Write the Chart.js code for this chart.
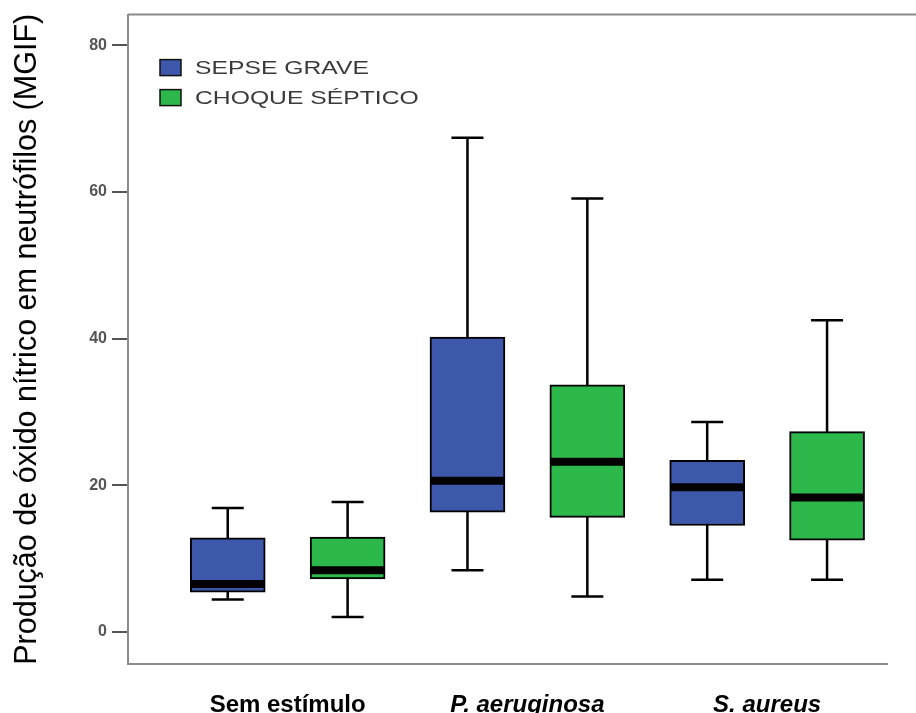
<!DOCTYPE html>
<html>
<head>
<meta charset="utf-8">
<script src="https://cdn.jsdelivr.net/npm/chart.js@4/dist/chart.umd.min.js"></script>
<style>
  html, body { margin: 0; padding: 0; background: #fff; }
  #wrap { width: 916px; height: 713px; }
</style>
</head>
<body>
<div id="wrap"><canvas id="noChart"></canvas></div>
<script>
// Categorias e séries
const categories = ['Sem estímulo', 'P. aeruginosa', 'S. aureus'];
const seriesNames = ['SEPSE GRAVE', 'CHOQUE SÉPTICO'];
const seriesColors = ['#3d58aa', '#2db84b'];

// Sepse grave: mínimo, Q1, mediana, Q3, máximo
const sepseMin = [4.4, 8.4, 7.1];
const sepseQ1 = [5.4, 16.3, 14.5];
const sepseMedian = [6.5, 20.6, 19.7];
const sepseQ3 = [12.8, 40.2, 23.4];
const sepseMax = [16.9, 67.4, 28.6];

// Choque séptico
const choqueMin = [2.0, 4.8, 7.1];
const choqueQ1 = [7.2, 15.6, 12.5];
const choqueMedian = [8.4, 23.2, 18.3];
const choqueQ3 = [12.9, 33.7, 27.3];
const choqueMax = [17.7, 59.1, 42.5];

const yTicks = [0, 20, 40, 60, 80];

const FONT = "'Liberation Sans', Arial, sans-serif";
const GROUP_OFFSET = 0.25; // deslocamento de cada caixa dentro do grupo

function boxData(q1, q3, shift) {
    return categories.map((c, i) => ({ x: i + shift, y: [q1[i], q3[i]] }));
}

const stats = [
    { min: sepseMin, med: sepseMedian, max: sepseMax },
    { min: choqueMin, med: choqueMedian, max: choqueMax }
];

// Bigodes (antes das caixas) e medianas (depois)
const boxPlotPlugin = {
    id: 'boxPlot',
    beforeDatasetsDraw(chart) {
        const ctx = chart.ctx;
        const y = chart.scales.y;
        ctx.save();
        ctx.strokeStyle = '#000';
        ctx.lineWidth = 2.5;
        chart.data.datasets.forEach((ds, d) => {
            chart.getDatasetMeta(d).data.forEach((bar, i) => {
                const s = stats[d];
                const yMax = y.getPixelForValue(s.max[i]);
                const yMin = y.getPixelForValue(s.min[i]);
                const cap = 16;
                ctx.beginPath();
                ctx.moveTo(bar.x, yMax); ctx.lineTo(bar.x, yMin);
                ctx.moveTo(bar.x - cap, yMax); ctx.lineTo(bar.x + cap, yMax);
                ctx.moveTo(bar.x - cap, yMin); ctx.lineTo(bar.x + cap, yMin);
                ctx.stroke();
            });
        });
        ctx.restore();
    },
    afterDatasetsDraw(chart) {
        const ctx = chart.ctx;
        const y = chart.scales.y;
        ctx.save();
        ctx.strokeStyle = '#000';
        ctx.lineWidth = 8;
        chart.data.datasets.forEach((ds, d) => {
            chart.getDatasetMeta(d).data.forEach((bar, i) => {
                const ym = y.getPixelForValue(stats[d].med[i]);
                ctx.beginPath();
                ctx.moveTo(bar.x - bar.width / 2 + 1, ym);
                ctx.lineTo(bar.x + bar.width / 2 - 1, ym);
                ctx.stroke();
            });
        });
        ctx.restore();
    }
};

// Linha superior da moldura e legenda dentro da área do gráfico
const framePlugin = {
    id: 'frame',
    afterDraw(chart) {
        const ctx = chart.ctx;
        const a = chart.chartArea;
        ctx.save();
        ctx.strokeStyle = '#8a8a8a';
        ctx.lineWidth = 2;
        ctx.beginPath();
        ctx.moveTo(a.left, a.top);
        ctx.lineTo(chart.width, a.top);
        ctx.stroke();

        seriesNames.forEach((name, k) => {
            const bx = a.left + 32;
            const by = a.top + 45 + k * 30;
            ctx.fillStyle = seriesColors[k];
            ctx.fillRect(bx, by, 21, 16);
            ctx.strokeStyle = '#111';
            ctx.lineWidth = 1.5;
            ctx.strokeRect(bx, by, 21, 16);

            ctx.save();
            ctx.translate(bx + 35, by + 8);
            ctx.scale(1.3, 1);
            ctx.fillStyle = '#3a3a3a';
            ctx.font = '19px ' + FONT;
            ctx.textBaseline = 'middle';
            ctx.fillText(name, 0, 1);
            ctx.restore();
        });
        ctx.restore();
    }
};

const chartEl = document.getElementById('noChart');
if (chartEl) {
    new Chart(chartEl, {
        type: 'bar',
        data: {
            datasets: [
                {
                    label: seriesNames[0],
                    data: boxData(sepseQ1, sepseQ3, -GROUP_OFFSET),
                    backgroundColor: seriesColors[0],
                    borderColor: '#000',
                    borderWidth: 2,
                    borderSkipped: false,
                    barThickness: 75,
                    grouped: false
                },
                {
                    label: seriesNames[1],
                    data: boxData(choqueQ1, choqueQ3, GROUP_OFFSET),
                    backgroundColor: seriesColors[1],
                    borderColor: '#000',
                    borderWidth: 2,
                    borderSkipped: false,
                    barThickness: 75,
                    grouped: false
                }
            ]
        },
        options: {
            responsive: true,
            maintainAspectRatio: false,
            animation: false,
            layout: { padding: { top: 13, right: 29, left: 0, bottom: 0 } },
            plugins: {
                legend: { display: false },
                tooltip: { enabled: false }
            },
            scales: {
                x: {
                    type: 'linear',
                    offset: false,
                    min: -0.666,
                    max: 2.5,
                    afterBuildTicks: (scale) => {
                        scale.ticks = categories.map((c, i) => ({ value: i }));
                    },
                    afterFit: (scale) => { scale.height = 49; },
                    grid: { display: false },
                    border: { display: true, color: '#8a8a8a', width: 2 },
                    ticks: {
                        padding: 19,
                        maxRotation: 0,
                        autoSkip: false,
                        color: '#000',
                        callback: (v) => categories[v],
                        font: (ctx) => ({
                            family: FONT,
                            size: 24,
                            weight: 'bold',
                            style: ctx.index === 0 ? 'normal' : 'italic'
                        })
                    }
                },
                y: {
                    min: -4.4,
                    max: 84.2,
                    afterBuildTicks: (scale) => {
                        scale.ticks = yTicks.map(v => ({ value: v }));
                    },
                    afterFit: (scale) => { scale.width = 128; },
                    grid: {
                        drawOnChartArea: false,
                        drawTicks: true,
                        tickLength: 16,
                        color: '#555',
                        lineWidth: 2
                    },
                    border: { display: true, color: '#8a8a8a', width: 2 },
                    ticks: {
                        padding: 5,
                        color: '#555',
                        font: { family: FONT, size: 16, weight: 'bold' }
                    },
                    title: {
                        display: true,
                        text: 'Produção de óxido nítrico em neutrófilos (MGIF)',
                        color: '#000',
                        padding: { top: 9, bottom: 0 },
                        font: { family: FONT, size: 30.5 }
                    }
                }
            }
        },
        plugins: [boxPlotPlugin, framePlugin]
    });
}
</script>
</body>
</html>
